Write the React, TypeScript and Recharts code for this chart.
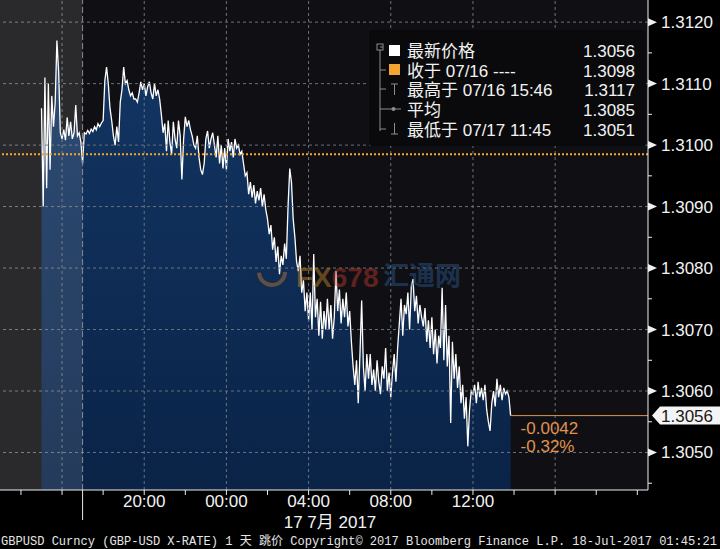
import React from 'react';
import { ComposedChart, Area, XAxis, YAxis, CartesianGrid, ReferenceLine, ReferenceArea } from 'recharts';

// GBPUSD ticks, 5-minute steps, hour by hour (07/16 15:00 -> 07/17 13:50)
const sun15 = [1.3106, 1.3090, 1.3111, 1.3093, 1.3110, 1.3096, 1.3108, 1.3103, 1.3107, 1.3117, 1.3112, 1.3102];
const sun16 = [1.3101, 1.31025, 1.31008, 1.31045, 1.31015, 1.31038, 1.3101, 1.3102, 1.31065, 1.31015, 1.3102, 1.31005];
const sun17 = [1.3097, 1.3102, 1.31018, 1.31024, 1.31019, 1.31026, 1.31022, 1.3103, 1.31025, 1.31035, 1.3103, 1.31036];
const sun18 = [1.3104, 1.31105, 1.31127, 1.3110, 1.3106, 1.3104, 1.31015, 1.3100, 1.3103, 1.31005, 1.3107, 1.3109];
const sun19 = [1.31127, 1.3110, 1.31105, 1.3109, 1.3108, 1.31085, 1.31075, 1.31075, 1.3107, 1.31085, 1.31103, 1.3109];
const sun20 = [1.3110, 1.3108, 1.31095, 1.31103, 1.31085, 1.31075, 1.3110, 1.3108, 1.3109, 1.31075, 1.3105, 1.3102];
const sun21 = [1.31035, 1.3099, 1.3104, 1.31005, 1.30985, 1.31038, 1.3101, 1.30995, 1.3104, 1.31015, 1.30944, 1.3101];
const sun22 = [1.31046, 1.3103, 1.3104, 1.31025, 1.31015, 1.3100, 1.30995, 1.31015, 1.3098, 1.3096, 1.30952, 1.3097];
const sun23 = [1.3101, 1.31023, 1.30995, 1.3101, 1.3102, 1.3100, 1.3098, 1.31015, 1.3097, 1.3100, 1.30962, 1.30995];
const mon00 = [1.3096, 1.3101, 1.3099, 1.31005, 1.3098, 1.3101, 1.30995, 1.3100, 1.30985, 1.3099, 1.3097, 1.3095];
const mon01 = [1.30955, 1.3092, 1.3094, 1.30915, 1.30935, 1.30905, 1.30925, 1.3091, 1.3093, 1.3090, 1.3092, 1.30895];
const mon02 = [1.3088, 1.30855, 1.3087, 1.3083, 1.3085, 1.3081, 1.30835, 1.3079, 1.3082, 1.30805, 1.3084, 1.30815];
const mon03 = [1.3090, 1.30962, 1.3094, 1.3088, 1.3085, 1.3081, 1.30795, 1.3082, 1.3076, 1.3078, 1.3073, 1.3076];
const mon04 = [1.30715, 1.3076, 1.3070, 1.30823, 1.3072, 1.3075, 1.3069, 1.30745, 1.30685, 1.3073, 1.3070, 1.3075];
const mon05 = [1.3070, 1.3074, 1.30685, 1.3072, 1.30795, 1.3073, 1.30765, 1.3071, 1.3075, 1.3072, 1.3076, 1.30705];
const mon06 = [1.3073, 1.3068, 1.3064, 1.3061, 1.3065, 1.3058, 1.3066, 1.30747, 1.3064, 1.3060, 1.3066, 1.3062];
const mon07 = [1.3066, 1.3061, 1.30635, 1.3060, 1.3065, 1.30615, 1.30595, 1.3064, 1.3062, 1.3067, 1.3060, 1.3063];
const mon08 = [1.3059, 1.3063, 1.3066, 1.30615, 1.3067, 1.3071, 1.3075, 1.3069, 1.3074, 1.30725, 1.3076, 1.3070];
const mon09 = [1.3077, 1.30782, 1.3073, 1.30755, 1.3071, 1.3074, 1.3072, 1.30705, 1.30735, 1.3068, 1.30715, 1.3067];
const mon10 = [1.3072, 1.3066, 1.3070, 1.30645, 1.3069, 1.3067, 1.30768, 1.3065, 1.3074, 1.3064, 1.3069, 1.30548];
const mon11 = [1.3068, 1.3062, 1.3066, 1.30605, 1.3064, 1.3058, 1.3061, 1.30555, 1.3059, 1.3051, 1.3057, 1.3060];
const mon12 = [1.30595, 1.3061, 1.3058, 1.30615, 1.3059, 1.30605, 1.30585, 1.3061, 1.3057, 1.3055, 1.30535, 1.3058];
const mon13 = [1.3060, 1.30575, 1.3062, 1.3059, 1.3061, 1.30585, 1.30605, 1.30595, 1.3060, 1.3059, 1.3056];

// hours counted from 07/16 00:00
const hourBlocks: [number, number[]][] = [
  [15, sun15], [16, sun16], [17, sun17], [18, sun18], [19, sun19], [20, sun20], [21, sun21],
  [22, sun22], [23, sun23], [24, mon00], [25, mon01], [26, mon02], [27, mon03], [28, mon04],
  [29, mon05], [30, mon06], [31, mon07], [32, mon08], [33, mon09], [34, mon10], [35, mon11],
  [36, mon12], [37, mon13],
];
const data = hourBlocks.flatMap(([h, vals]) => vals.map((price, i) => ({ t: h + (i * 5) / 60, price })));

const xDomain = [12.98, 44.52];
const xTicks = [14, 16, 17, 18, 20, 22, 24, 26, 28, 30, 32, 34, 36, 38, 40, 42, 44];
const xLabels: Record<number, string> = { 20: '20:00', 24: '00:00', 28: '04:00', 32: '08:00', 36: '12:00' };
const dayStart = 17;
const vGrid = [16, 20, 24, 28, 32, 36, 40];

const yDomain = [1.30439, 1.31236];
const yTicks = [1.3045, 1.305, 1.3055, 1.306, 1.3065, 1.307, 1.3075, 1.308, 1.3085, 1.309, 1.3095, 1.31, 1.3105, 1.311, 1.3115, 1.312];
const hGrid = [1.305, 1.306, 1.307, 1.308, 1.309, 1.31, 1.311, 1.312];

const lastPrice = 1.3056;
const prevClose = 1.30985;
const changeAbs = '-0.0042';
const changePct = '-0.32%';

const legendLabels = ['最新价格', '收于 07/16 ----', '最高于 07/16 15:46', '平均', '最低于 07/17 11:45'];
const legendValues = ['1.3056', '1.3098', '1.3117', '1.3085', '1.3051'];

const FONT = '"Liberation Sans", Arial, "Noto Sans CJK SC", sans-serif';
const ORANGE = '#f2a533';
const CHG = '#e0924f';
const GRID = '#6b717c';

const XTick = (props: any) => {
  const { x, y, payload } = props;
  const v = payload.value;
  const label = xLabels[v];
  return (
    <g>
      <line x1={x} x2={x} y1={y} y2={y + (v === dayStart ? 30 : 5)} stroke="#e8e8e8" />
      {label && (
        <text x={x} y={y + 17} textAnchor="middle" fill="#f2f2f2" fontSize={17} fontFamily={FONT}>{label}</text>
      )}
    </g>
  );
};

const YTick = (props: any) => {
  const { x, y, payload } = props;
  const v = payload.value;
  const major = Math.round(v * 10000) % 10 === 0;
  if (!major) return <line x1={x} x2={x + 4} y1={y} y2={y} stroke="#f0f0f0" />;
  return (
    <g>
      <path d={`M${x},${y - 4} L${x + 9},${y} L${x},${y + 4} Z`} fill="#f0f0f0" />
      <text x={x + 13} y={y + 6} fill="#f2f2f2" fontSize={17} fontFamily={FONT}>{v.toFixed(4)}</text>
    </g>
  );
};

const PriceTag = (props: any) => {
  const vb = props.viewBox || {};
  const x0 = vb.x, y0 = vb.y, x1 = vb.x + vb.width;
  return (
    <g>
      <text x={x0 + 10} y={y0 + 18} fill={CHG} fontSize={17} fontFamily={FONT}>{changeAbs}</text>
      <text x={x0 + 10} y={y0 + 36} fill={CHG} fontSize={17} fontFamily={FONT}>{changePct}</text>
      <path d={`M${x1 + 4},${y0} L${x1 + 12},${y0 - 9} H720 V${y0 + 9} H${x1 + 12} Z`} fill="#f4f4f4" />
      <text x={x1 + 13} y={y0 + 6} fill="#1a1a1a" fontSize={17} fontFamily={FONT}>{lastPrice.toFixed(4)}</text>
    </g>
  );
};

const Overlay = () => {
  const rowY = [57, 76.5, 96, 116, 135.5];
  const tree = '#8c8c8c';
  return (
    <svg width={720} height={549} style={{ position: 'absolute', left: 0, top: 0, pointerEvents: 'none' }}>
      {/* watermark */}
      <g opacity={0.45}>
        <circle cx={272} cy={272} r={13} fill="none" stroke="#c77a2a" strokeWidth={4} strokeDasharray="40 42" />
        <text x={296} y={287} fontSize={28} fontWeight="bold" fontFamily={FONT} fill="#c48a2a">FX<tspan fill="#c0392b">678</tspan></text>
        <text x={383} y={285} fontSize={26} fontWeight="bold" fontFamily={FONT} fill="#2a5a92">汇通网</text>
      </g>
      {/* legend */}
      <rect x={369} y={30} width={277} height={116} rx={3} fill="#0a0a0d" />
      <rect x={377} y={44} width={6} height={6} fill="none" stroke={tree} />
      <line x1={380} x2={383} y1={47} y2={47} stroke={tree} />
      <line x1={380} x2={380} y1={50} y2={131} stroke={tree} />
      {[70, 89, 109, 129].map((cy) => <line key={cy} x1={380} x2={386} y1={cy} y2={cy} stroke={tree} />)}
      <rect x={389} y={45} width={11} height={11} fill="#ffffff" />
      <rect x={389} y={64} width={11} height={11} fill={ORANGE} />
      <line x1={391} x2={398} y1={84} y2={84} stroke={tree} />
      <line x1={394.5} x2={394.5} y1={84} y2={95} stroke={tree} />
      <line x1={386} x2={401} y1={109} y2={109} stroke={tree} />
      <circle cx={393.5} cy={109} r={2} fill={tree} />
      <line x1={394.5} x2={394.5} y1={123} y2={134} stroke={tree} />
      <line x1={391} x2={398} y1={134} y2={134} stroke={tree} />
      {legendLabels.map((l, i) => (
        <text key={l} x={407} y={rowY[i]} fill="#f2f2f2" fontSize={17} fontFamily={FONT}>{l}</text>
      ))}
      {legendValues.map((v, i) => (
        <text key={i} x={635} y={rowY[i]} textAnchor="end" fill="#f2f2f2" fontSize={17} fontFamily={FONT}>{v}</text>
      ))}
      {/* date + footer */}
      <text x={330} y={528} textAnchor="middle" fill="#f2f2f2" fontSize={17} fontFamily={FONT}>17 7月 2017</text>
      <text x={1} y={545} fill="#e6e6e6" fontSize={12} fontFamily='"Liberation Mono", "Noto Sans CJK SC", monospace'
        textLength={716} lengthAdjust="spacingAndGlyphs">
        GBPUSD Curncy (GBP-USD X-RATE) 1 天  跳价  Copyright© 2017 Bloomberg Finance L.P.  18-Jul-2017 01:45:21
      </text>
    </svg>
  );
};

export default function App() {
  const endT = data[data.length - 1].t;
  return (
    <div style={{ position: 'absolute', left: 0, top: 0, width: 720, height: 549, background: '#000', overflow: 'hidden' }}>
      <ComposedChart width={720} height={549} data={data} margin={{ top: 0, right: 0, bottom: 0, left: 0 }}>
        <defs>
          <linearGradient id="areaFill" x1="0" y1="0" x2="0" y2="1">
            <stop offset="0%" stopColor="#133664" />
            <stop offset="100%" stopColor="#0a2347" />
          </linearGradient>
        </defs>
        <CartesianGrid fill="#101014" stroke="none" horizontal={false} vertical={false} />
        <XAxis type="number" dataKey="t" domain={xDomain} ticks={xTicks} interval={0} allowDataOverflow
          height={59} tickSize={0} tickMargin={0} tickLine={false} axisLine={{ stroke: '#eeeeee' }} tick={<XTick />} />
        <YAxis orientation="right" domain={yDomain} ticks={yTicks} interval={0} allowDataOverflow
          width={72} tickSize={0} tickMargin={0} tickLine={false} axisLine={{ stroke: '#eeeeee' }} tick={<YTick />} />
        <Area type="linear" dataKey="price" stroke="#ffffff" strokeWidth={1.3} fill="url(#areaFill)" fillOpacity={1}
          baseValue={yDomain[0]} dot={false} activeDot={false} isAnimationActive={false} />
        {hGrid.map((v) => (
          <ReferenceLine key={'h' + v} y={v} stroke={GRID} strokeDasharray="3 3" zIndex={150} />
        ))}
        {vGrid.map((v) => (
          <ReferenceLine key={'v' + v} x={v} stroke={GRID} strokeDasharray="3 3" zIndex={150} />
        ))}
        <ReferenceArea x1={xDomain[0]} x2={dayStart} y1={yDomain[0]} y2={yDomain[1]} ifOverflow="visible"
          fill="#ffffff" fillOpacity={0.11} stroke="none" zIndex={160} />
        <ReferenceLine x={dayStart} stroke="#8a8a90" strokeDasharray="6 3" zIndex={170} />
        <ReferenceLine y={prevClose} stroke={ORANGE} strokeWidth={2} strokeDasharray="2 2" zIndex={450} />
        <ReferenceLine segment={[{ x: endT, y: lastPrice }, { x: xDomain[1], y: lastPrice }]} stroke={CHG}
          strokeWidth={1} ifOverflow="visible" zIndex={450} label={<PriceTag />} />
      </ComposedChart>
      <Overlay />
    </div>
  );
}
